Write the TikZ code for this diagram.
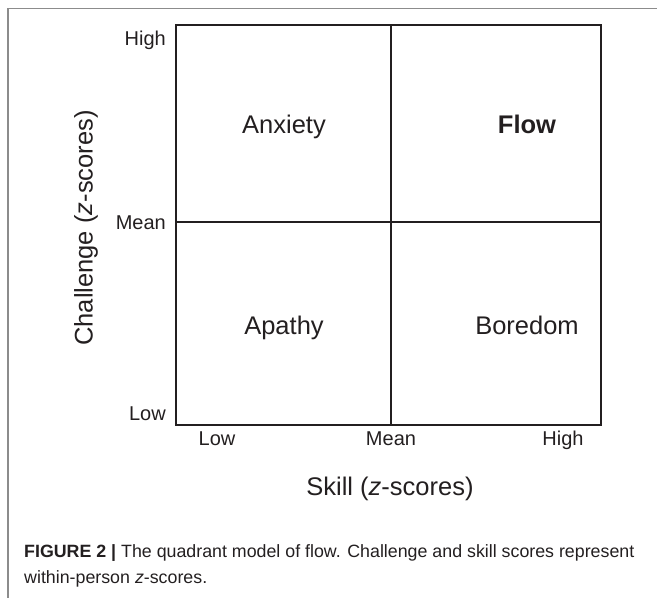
\documentclass[tikz,border=0pt]{standalone}
\usepackage{fontspec}
\setmainfont{Liberation Sans}
\definecolor{ink}{HTML}{231F20}
\definecolor{framegray}{HTML}{8C8C8C}
\begin{document}
\begin{tikzpicture}[x=1pt,y=-1pt,
  tick/.style={text=ink,font=\fontsize{20}{24}\selectfont,inner sep=0pt},
  quad/.style={text=ink,font=\fontsize{25.5}{30}\selectfont,inner sep=0pt},
  axistitle/.style={text=ink,font=\fontsize{25.5}{30}\selectfont,inner sep=0pt},
  gridline/.style={draw=ink,line width=1.4pt}]
\useasboundingbox (0,0) rectangle (657,598);
% figure frame: top and left rules only
\draw[framegray,line width=1.5pt] (8,598) -- (8,8.5) -- (657,8.5);
% quadrant box
\coordinate (sw) at (176,425);
\coordinate (ne) at (601,25);
\coordinate (mt) at (391,25);
\coordinate (mb) at (391,425);
\coordinate (ml) at (176,222);
\coordinate (mr) at (601,222);
\draw[gridline] (sw) rectangle (ne);
\draw[gridline] (mt) -- (mb);
\draw[gridline] (ml) -- (mr);
% y-axis tick labels
\node[tick,anchor=base east] (yhigh) at (166,45) {High};
\node[tick,anchor=base east] (ymean) at (166,229) {Mean};
\node[tick,anchor=base east] (ylow) at (166,420) {Low};
% x-axis tick labels
\node[tick,anchor=base] (xlow) at (217,445) {Low};
\node[tick,anchor=base] (xmean) at (391,445) {Mean};
\node[tick,anchor=base] (xhigh) at (563,445) {High};
% quadrant names
\node[quad,anchor=base] (anx) at (284,133) {Anxiety};
\node[quad,anchor=base] (flow) at (527,133) {\bfseries Flow};
\node[quad,anchor=base] (apa) at (284,334) {Apathy};
\node[quad,anchor=base] (bor) at (527,334) {Boredom};
% axis titles
\node[axistitle] (xtitle) at (390,489) {Skill (\textit{z}-scores)};
\node[axistitle,rotate=90] (ytitle) at (86,228) {Challenge (\textit{z}-scores)};
% caption (base anchor sits on the last line)
\node[text=ink,anchor=base west,inner sep=0pt,align=left,
  font=\fontsize{17.8}{26}\selectfont] (caption) at (24,583)
  {\textbf{FIGURE 2 |} The quadrant model of flow. Challenge and skill scores represent\\
   within-person \textit{z}-scores.};
\end{tikzpicture}
\end{document}
